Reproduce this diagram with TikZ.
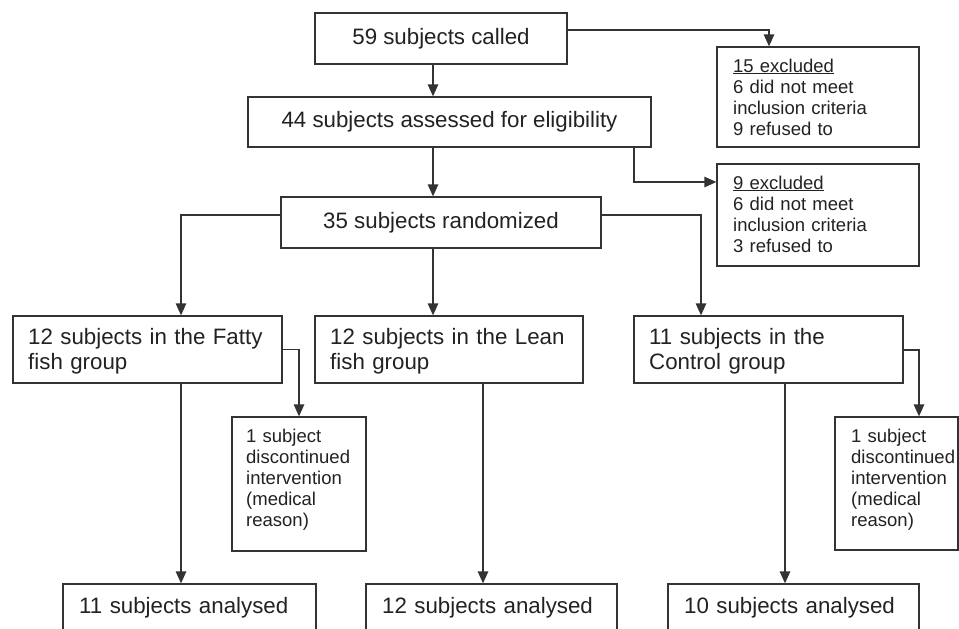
\documentclass[tikz,border=0pt]{standalone}
\usepackage{fontspec}
\setmainfont{Liberation Sans}
\usetikzlibrary{arrows.meta}
\definecolor{lc}{HTML}{333333}
\definecolor{tc}{HTML}{222222}
\begin{document}
\begin{tikzpicture}[x=1pt,y=-1pt,
  box/.style={draw=lc, line width=1.3pt, inner sep=0pt, text=tc, font=\fontsize{22.3}{25}\selectfont},
  bigtxt/.style={anchor=base west, inner sep=0pt, text width=260pt, align=left, text=tc, font=\fontsize{22.3}{25}\selectfont},
  smalltxt/.style={anchor=base west, inner sep=0pt, text width=200pt, align=left, text=tc, font=\fontsize{18.5}{21.2}\selectfont},
  arr/.style={draw=lc, line width=1.3pt, -{Triangle[length=12pt,width=10.5pt]}}]
\useasboundingbox (0,0) rectangle (959,629);
\fill[white] (0,0) rectangle (959,629);
\clip (0,0) rectangle (959,629);

% top boxes
\node[box, minimum width=252pt, minimum height=51pt] (b1) at (441,38.5) {59 subjects called};
\node[box, minimum width=403pt, minimum height=50pt] (b2) at (449.5,122) {44 subjects assessed for eligibility};
\node[box, minimum width=320pt, minimum height=51pt] (b3) at (441,222.5) {35 subjects randomized};

% excluded boxes
\node[box, minimum width=202pt, minimum height=100pt] (ex1) at (818,97) {};
\node[box, minimum width=202pt, minimum height=102pt] (ex2) at (818,215) {};
\node[smalltxt] (ex1t) at (733,72) {\underline{15 excluded}\\6 did not meet\\inclusion criteria\\9 refused to};
\node[smalltxt] (ex2t) at (733,189) {\underline{9 excluded}\\6 did not meet\\inclusion criteria\\3 refused to};

% group boxes
\node[box, minimum width=269pt, minimum height=67pt] (fat) at (147.5,349.5) {};
\node[box, minimum width=268pt, minimum height=67pt] (lean) at (449,349.5) {};
\node[box, minimum width=269pt, minimum height=67pt] (ctl) at (768.5,349.5) {};
\node[bigtxt] (fatt) at (28,344) {12 subjects in the Fatty\\fish group};
\node[bigtxt] (leant) at (330,344) {12 subjects in the Lean\\fish group};
\node[bigtxt] (ctlt) at (649,344) {11 subjects in the\\Control group};

% discontinued boxes
\node[box, minimum width=134pt, minimum height=134pt] (dfat) at (299,484) {};
\node[box, minimum width=123pt, minimum height=133pt] (dctl) at (896.5,483.5) {};
\node[smalltxt] (dfatt) at (246,442) {1 subject\\discontinued\\intervention\\(medical\\reason)};
\node[smalltxt] (dctlt) at (851,442) {1 subject\\discontinued\\intervention\\(medical\\reason)};

% analysed boxes (cut by the lower edge)
\node[box, minimum width=253pt, minimum height=80pt] (fatA) at (189.5,624) {};
\node[box, minimum width=251pt, minimum height=80pt] (leanA) at (491.5,624) {};
\node[box, minimum width=251pt, minimum height=80pt] (ctlA) at (793.5,624) {};
\node[bigtxt] (fatAt) at (79,613) {11 subjects analysed};
\node[bigtxt] (leanAt) at (382,613) {12 subjects analysed};
\node[bigtxt] (ctlAt) at (684,613) {10 subjects analysed};

% connectors
\draw[arr] ([yshift=8.5pt]b1.east) -| ([xshift=-49pt]ex1.north);
\draw[arr] ([xshift=-8pt]b1.south) -- ([xshift=-8pt]b1.south |- b2.north);
\draw[arr] ([xshift=-16.5pt]b2.south) -- ([xshift=-16.5pt]b2.south |- b3.north);
\draw[arr] ([xshift=184.5pt]b2.south) |- ([yshift=33pt]ex2.west);
\draw[arr] ([yshift=7.5pt]b3.west) -| ([xshift=33.5pt]fat.north);
\draw[arr] ([xshift=-8pt]b3.south) -- ([xshift=-8pt]b3.south |- lean.north);
\draw[arr] ([yshift=7.5pt]b3.east) -| ([xshift=-67.5pt]ctl.north);
\draw[arr] (fat.east) -| (dfat.north);
\draw[arr] ([yshift=-0.5pt]ctl.east) -| ([xshift=22.5pt]dctl.north);
\draw[arr] ([xshift=33.5pt]fat.south) -- ([xshift=33.5pt]fat.south |- fatA.north);
\draw[arr] ([xshift=34pt]lean.south) -- ([xshift=34pt]lean.south |- leanA.north);
\draw[arr] ([xshift=16.5pt]ctl.south) -- ([xshift=16.5pt]ctl.south |- ctlA.north);
\end{tikzpicture}
\end{document}
